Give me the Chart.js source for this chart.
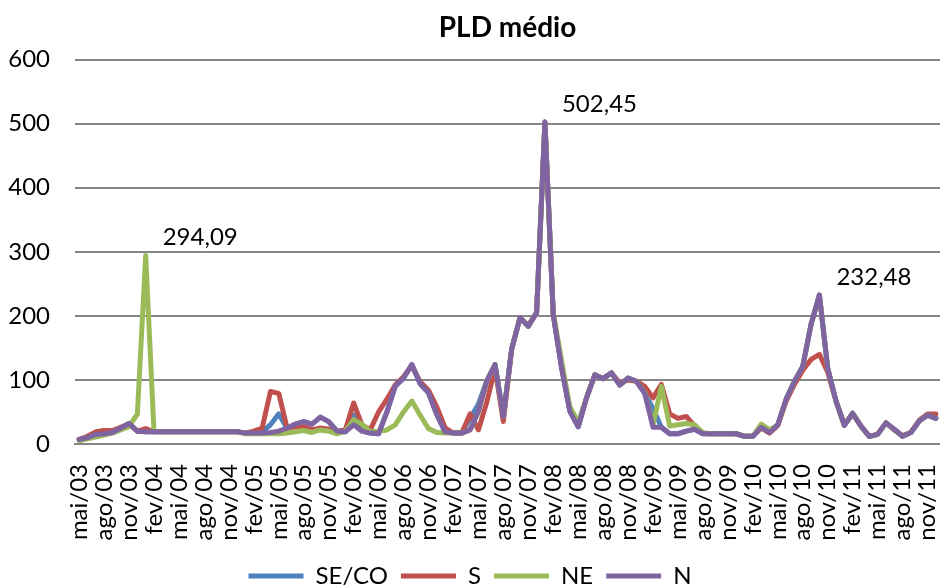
<!DOCTYPE html>
<html>
<head>
<meta charset="utf-8">
<script src="https://cdn.jsdelivr.net/npm/chart.js@4.4.0/dist/chart.umd.min.js"></script>
<style>
  html, body { margin: 0; padding: 0; background: #fff; }
</style>
</head>
<body>
<canvas id="pldChart" width="940" height="586"></canvas>
<script>
// Categorias: meses de mai/03 a dez/11
const meses = ['jan', 'fev', 'mar', 'abr', 'mai', 'jun', 'jul', 'ago', 'set', 'out', 'nov', 'dez'];
const mesInicial = 4;   // mai
const anoInicial = 3;   // 2003
const numMeses = 104;
const labels = [];
for (let k = 0; k < numMeses; k++) {
  const m = mesInicial + k;
  labels.push(meses[m % 12] + '/' + String(anoInicial + Math.floor(m / 12)).padStart(2, '0'));
}

// PLD médio (R$/MWh) por submercado
const seco = [7, 10, 15, 16, 18, 25, 32, 20, 19, 19, 19, 19, 19, 19, 19, 19, 19, 19, 19, 19,
  17, 17, 19, 30, 47, 24, 31, 35, 31, 42, 35, 20, 19, 45, 20, 17, 16, 50, 90, 103,
  124, 94, 80, 46, 19, 17, 17, 40, 62, 98, 124, 43, 148, 197, 184, 205, 502.45, 202, 119, 51,
  27, 72, 108, 102, 111, 92, 103, 98, 79, 55, 26, 16, 16, 20, 23, 16, 16, 16, 16, 16,
  12, 12, 26, 18, 30, 70, 98, 121, 187, 232.48, 118, 67, 29, 48, 28, 12, 15, 33, 23, 12,
  18, 36, 45, 40];
const sul = [7, 12, 19, 21, 21, 26, 31, 20, 24, 19, 19, 19, 19, 19, 19, 19, 19, 19, 19, 19,
  17, 20, 25, 82, 79, 25, 27, 27, 22, 25, 23, 20, 22, 64, 30, 22, 50, 70, 92, 105,
  122, 97, 84, 58, 25, 17, 17, 47, 22, 65, 118, 35, 148, 197, 184, 205, 502.45, 202, 122, 52,
  28, 72, 108, 102, 111, 95, 100, 98, 90, 72, 93, 47, 40, 43, 28, 17, 16, 16, 16, 16,
  12, 12, 25, 17, 29, 67, 93, 115, 132, 140, 112, 67, 30, 47, 28, 12, 15, 33, 22, 13,
  18, 37, 47, 47];
const nordeste = [5, 8, 11, 14, 17, 22, 27, 47, 294.09, 19, 19, 19, 19, 19, 19, 19, 19, 19, 19, 19,
  16, 16, 16, 16, 16, 17, 19, 21, 18, 22, 20, 16, 20, 38, 31, 19, 20, 22, 30, 50,
  67, 45, 24, 18, 17, 17, 17, 22, 50, 98, 124, 43, 148, 197, 184, 205, 502.45, 205, 130, 58,
  34, 72, 108, 102, 111, 92, 103, 98, 80, 30, 90, 28, 30, 32, 30, 17, 16, 16, 16, 16,
  12, 12, 31, 22, 30, 70, 98, 121, 187, 232.48, 118, 67, 29, 48, 28, 12, 15, 33, 23, 12,
  18, 36, 45, 40];
const norte = [7, 10, 15, 16, 18, 25, 32, 20, 19, 19, 19, 19, 19, 19, 19, 19, 19, 19, 19, 19,
  17, 17, 17, 18, 20, 25, 31, 35, 31, 42, 35, 20, 19, 30, 20, 17, 16, 50, 90, 103,
  124, 94, 80, 46, 19, 17, 17, 22, 51, 98, 124, 43, 148, 197, 184, 205, 502.45, 202, 119, 51,
  27, 72, 108, 102, 111, 92, 103, 98, 79, 26, 26, 16, 16, 20, 23, 16, 16, 16, 16, 16,
  12, 12, 26, 18, 30, 70, 98, 121, 187, 232.48, 118, 67, 29, 48, 28, 12, 15, 33, 23, 12,
  18, 36, 45, 40];

const seriesNames = ['SE/CO', 'S', 'NE', 'N'];
const seriesData = [seco, sul, nordeste, norte];
const seriesColors = ['#4F81BD', '#C0504D', '#9BBB59', '#8064A2'];

// picos anotados: [série, índice do mês]
const picoSerie = [2, 3, 3];
const picoMes = [8, 56, 89];

const fonte = 'Lato, "Open Sans", sans-serif';

const peakLabels = {
  id: 'peakLabels',
  afterDatasetsDraw(chart) {
    const ctx = chart.ctx;
    ctx.save();
    ctx.font = '24px ' + fonte;
    ctx.fillStyle = '#000';
    ctx.textAlign = 'left';
    ctx.textBaseline = 'middle';
    picoSerie.forEach((s, k) => {
      const pt = chart.getDatasetMeta(s).data[picoMes[k]];
      const txt = seriesData[s][picoMes[k]].toFixed(2).replace('.', ',');
      ctx.fillText(txt, pt.x + 17, pt.y - 18);
    });
    ctx.restore();
  }
};

const ctx = document.getElementById('pldChart').getContext('2d');
new Chart(ctx, {
  type: 'line',
  data: {
    labels: labels,
    datasets: seriesNames.map((nome, i) => ({
      label: nome,
      data: seriesData[i],
      borderColor: seriesColors[i],
      backgroundColor: seriesColors[i],
      borderWidth: 5,
      borderJoinStyle: 'round',
      borderCapStyle: 'round',
      pointRadius: 0,
      pointHoverRadius: 0,
      pointStyle: 'line',
      tension: 0,
      order: seriesNames.length - i
    }))
  },
  options: {
    responsive: false,
    animation: false,
    layout: { padding: { left: 0, right: 0, top: 0, bottom: 0 } },
    plugins: {
      title: {
        display: true,
        text: 'PLD médio',
        color: '#000',
        fullSize: false,
        font: { family: fonte, size: 28, weight: 'bold' },
        padding: { top: 11, bottom: 15 }
      },
      legend: {
        position: 'bottom',
        maxHeight: 35,
        labels: {
          usePointStyle: true,
          pointStyleWidth: 55,
          padding: 13,
          color: '#000',
          font: { family: fonte, size: 24 },
          sort: (a, b) => a.datasetIndex - b.datasetIndex
        }
      },
      tooltip: { enabled: false }
    },
    scales: {
      x: {
        offset: true,
        grid: { display: false, drawTicks: false },
        border: { display: true, color: '#868686', width: 2 },
        ticks: {
          autoSkip: false,
          minRotation: 90,
          maxRotation: 90,
          padding: 20,
          color: '#000',
          font: { family: fonte, size: 24 },
          callback: function (val, idx) {
            return idx % 3 === 0 ? this.getLabelForValue(val) : '';
          }
        },
        afterFit: (scale) => {
          scale.height = 107;
          scale.paddingLeft = 0;
          scale.paddingRight = 0;
        }
      },
      y: {
        min: 0,
        max: 600,
        grid: { color: '#868686', lineWidth: 2, drawTicks: false },
        border: { display: false },
        ticks: {
          stepSize: 100,
          padding: 25,
          color: '#000',
          font: { family: fonte, size: 24 }
        },
        afterFit: (scale) => { scale.width = 75; }
      }
    }
  },
  plugins: [peakLabels]
});
</script>
</body>
</html>
